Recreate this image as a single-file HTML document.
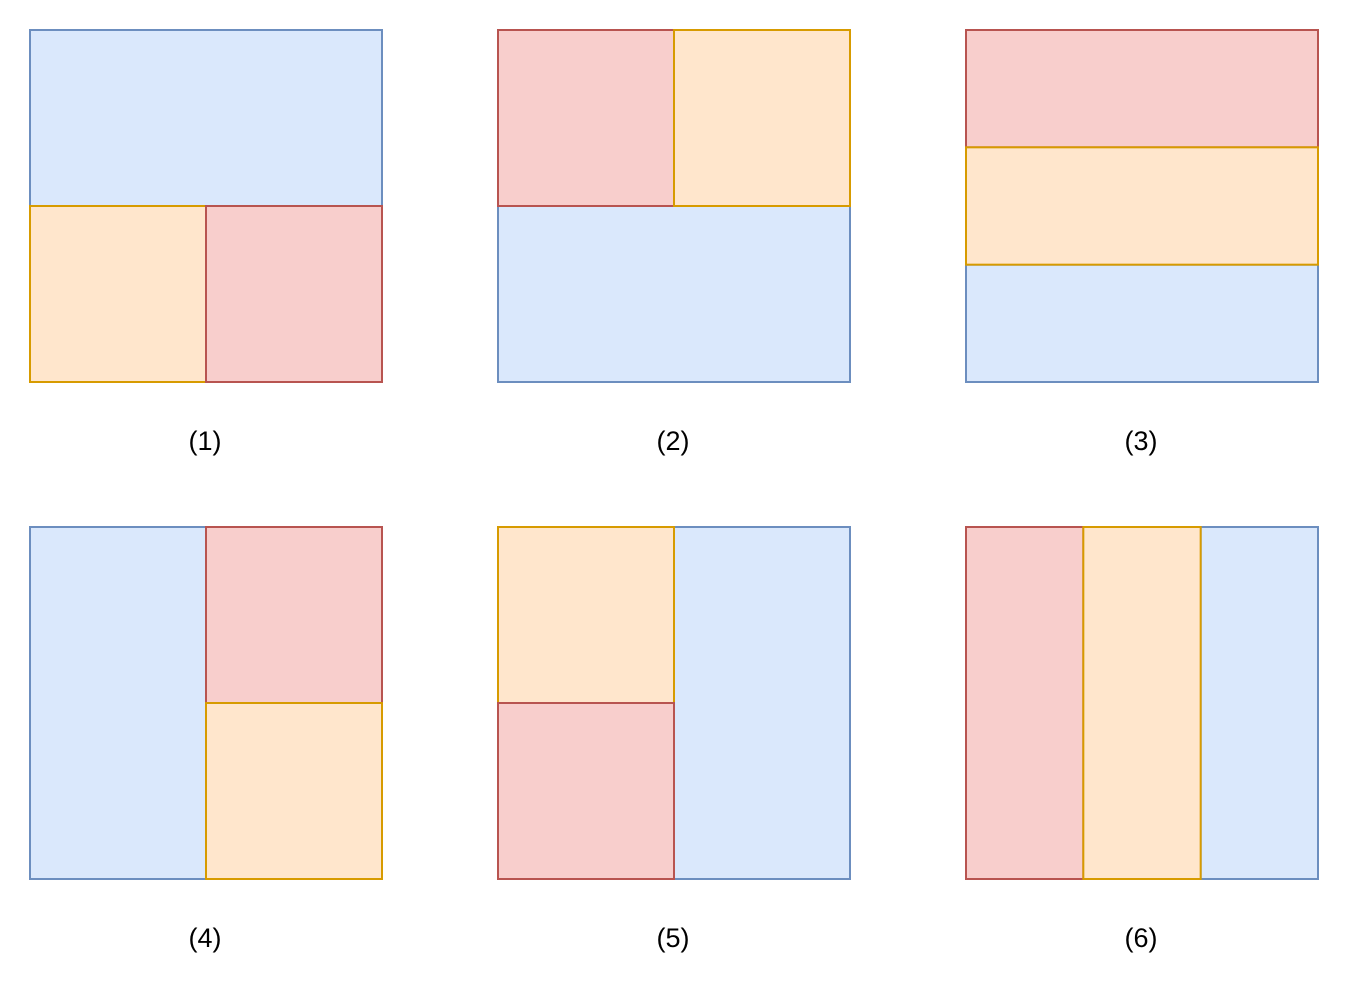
<!DOCTYPE html>
<html><head><meta charset="utf-8"><style>
html,body{margin:0;padding:0;background:#fff;width:1348px;height:1000px;overflow:hidden}
svg{display:block}
text{font-family:"Liberation Sans",sans-serif;font-size:27px;fill:#000}
</style></head><body>
<svg width="1348" height="1000" viewBox="0 0 1348 1000">
<g id="root"></g>
</svg>
<script>
const panelLabels=["(1)","(2)","(3)","(4)","(5)","(6)"];
const panelOrigins=[[30,30],[498,30],[966,30],[30,527],[498,527],[966,527]];
const panelRects=[
 [[0,0,1,0.5,"b"],[0,0.5,0.5,0.5,"o"],[0.5,0.5,0.5,0.5,"r"]],
 [[0,0.5,1,0.5,"b"],[0,0,0.5,0.5,"r"],[0.5,0,0.5,0.5,"o"]],
 [[0,2/3,1,1/3,"b"],[0,0,1,1/3,"r"],[0,1/3,1,1/3,"o"]],
 [[0,0,0.5,1,"b"],[0.5,0,0.5,0.5,"r"],[0.5,0.5,0.5,0.5,"o"]],
 [[0.5,0,0.5,1,"b"],[0,0,0.5,0.5,"o"],[0,0.5,0.5,0.5,"r"]],
 [[2/3,0,1/3,1,"b"],[0,0,1/3,1,"r"],[1/3,0,1/3,1,"o"]]
];
const fills={b:"#dae8fc",o:"#ffe6cc",r:"#f8cecc"};
const strokes={b:"#6c8ebf",o:"#d79b00",r:"#b85450"};
const names={b:"blue-block",o:"orange-block",r:"red-block"};
const S=352, NS="http://www.w3.org/2000/svg";
const root=document.getElementById('root');
panelRects.forEach((rects,i)=>{
  const [ox,oy]=panelOrigins[i];
  const g=document.createElementNS(NS,'g');
  
  
  rects.forEach(([fx,fy,fw,fh,c])=>{
    const r=document.createElementNS(NS,'rect');
    r.setAttribute('x',ox+fx*S);r.setAttribute('y',oy+fy*S);
    r.setAttribute('width',fw*S);r.setAttribute('height',fh*S);
    r.setAttribute('fill',fills[c]);r.setAttribute('stroke',strokes[c]);r.setAttribute('stroke-width',2);
    
    
    g.appendChild(r);
  });
  const t=document.createElementNS(NS,'text');
  t.setAttribute('x',ox+S/2-1);t.setAttribute('y',oy+S+68);
  t.setAttribute('text-anchor','middle');
  t.textContent=panelLabels[i];
  
  
  g.appendChild(t);
  root.appendChild(g);
});
</script>
</body></html>
